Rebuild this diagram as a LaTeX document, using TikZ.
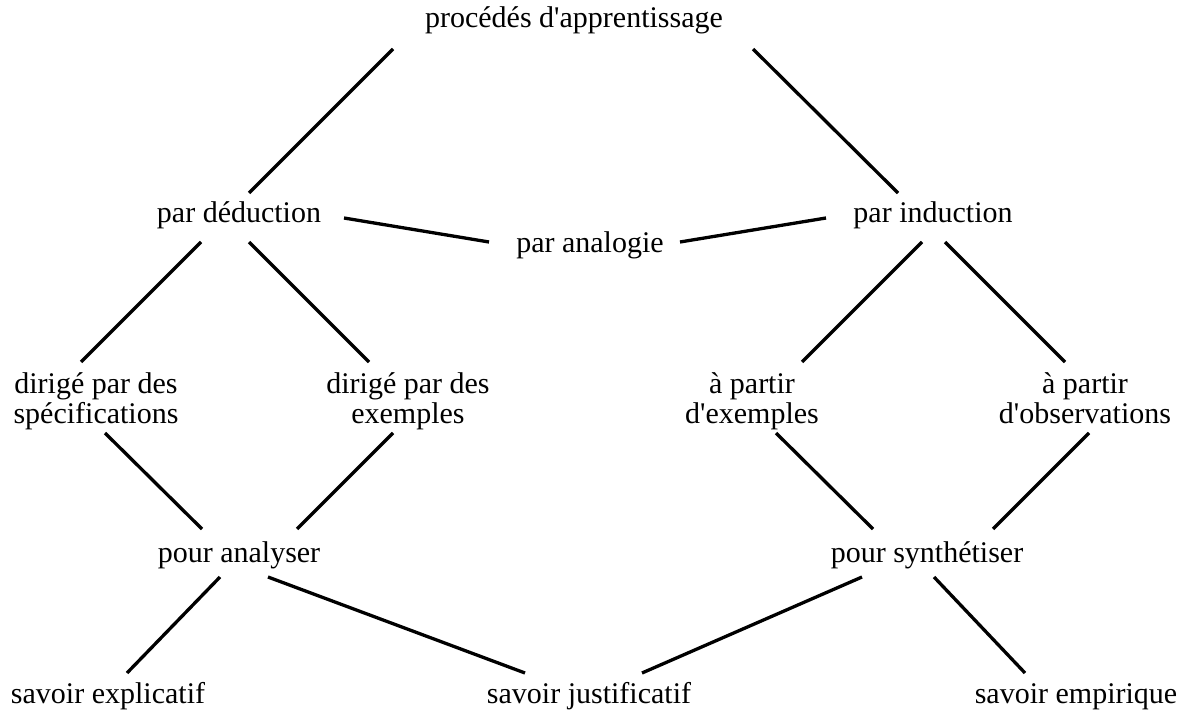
\documentclass[tikz,border=0pt]{standalone}
\usepackage{fontspec}
\setmainfont{Liberation Serif}
\usepackage{tikz}
\tikzset{
  lbl/.style={anchor=base, inner sep=0pt, align=center, font=\fontsize{30}{30}\selectfont},
  edge/.style={line width=3.3pt}
}

\begin{document}
\begin{tikzpicture}[x=1pt, y=-1pt]
                \useasboundingbox (0,0) rectangle (1188,711);

                % Nodes
                \node[lbl] (proc) at (574,28) {procédés d\textquotesingle apprentissage};
                \node[lbl] (ded) at (239,223) {par déduction};
                \node[lbl] (ana) at (590,253) {par analogie};
                \node[lbl] (ind) at (933,223) {par induction};
                \node[lbl] (spec) at (96,423) {dirigé par des\\spécifications};
                \node[lbl] (dexe) at (408,423) {dirigé par des\\exemples};
                \node[lbl] (pexe) at (752,423) {à partir\\d\textquotesingle exemples};
                \node[lbl] (pobs) at (1085,423) {à partir\\d\textquotesingle observations};
                \node[lbl] (anal) at (239,562) {pour analyser};
                \node[lbl] (synt) at (927,562) {pour synthétiser};
                \node[lbl] (expl) at (108,703) {savoir explicatif};
                \node[lbl] (just) at (589,703) {savoir justificatif};
                \node[lbl] (empi) at (1076,703) {savoir empirique};

                % Top level
                \draw[edge] ([shift={(-181,21)}]proc.base) -- ([shift={(10,-30)}]ded.base);
                \draw[edge] ([shift={(179,21)}]proc.base) -- ([shift={(-35,-30)}]ind.base);
                \draw[edge] ([shift={(105,-5)}]ded.base) -- ([shift={(-101,-11)}]ana.base);
                \draw[edge] ([shift={(-107,-5)}]ind.base) -- ([shift={(90,-11)}]ana.base);

                % Deduction / induction branches
                \draw[edge] ([shift={(-38,19)}]ded.base) -- ([shift={(-15,-61)}]spec.base);
                \draw[edge] ([shift={(10,19)}]ded.base) -- ([shift={(-39,-61)}]dexe.base);
                \draw[edge] ([shift={(-11,19)}]ind.base) -- ([shift={(50,-61)}]pexe.base);
                \draw[edge] ([shift={(12,19)}]ind.base) -- ([shift={(-20,-61)}]pobs.base);

                % Towards analysis and synthesis
                \draw[edge] ([shift={(9,10)}]spec.base) -- ([shift={(-37,-33)}]anal.base);
                \draw[edge] ([shift={(-15,10)}]dexe.base) -- ([shift={(58,-33)}]anal.base);
                \draw[edge] ([shift={(24,10)}]pexe.base) -- ([shift={(-54,-33)}]synt.base);
                \draw[edge] ([shift={(4,10)}]pobs.base) -- ([shift={(66,-33)}]synt.base);

                % Kinds of knowledge
                \draw[edge] ([shift={(-19,15)}]anal.base) -- ([shift={(19,-30)}]expl.base);
                \draw[edge] ([shift={(29,15)}]anal.base) -- ([shift={(-64,-30)}]just.base);
                \draw[edge] ([shift={(-65,15)}]synt.base) -- ([shift={(53,-30)}]just.base);
                \draw[edge] ([shift={(7,15)}]synt.base) -- ([shift={(-51,-30)}]empi.base);
\end{tikzpicture}
\end{document}
